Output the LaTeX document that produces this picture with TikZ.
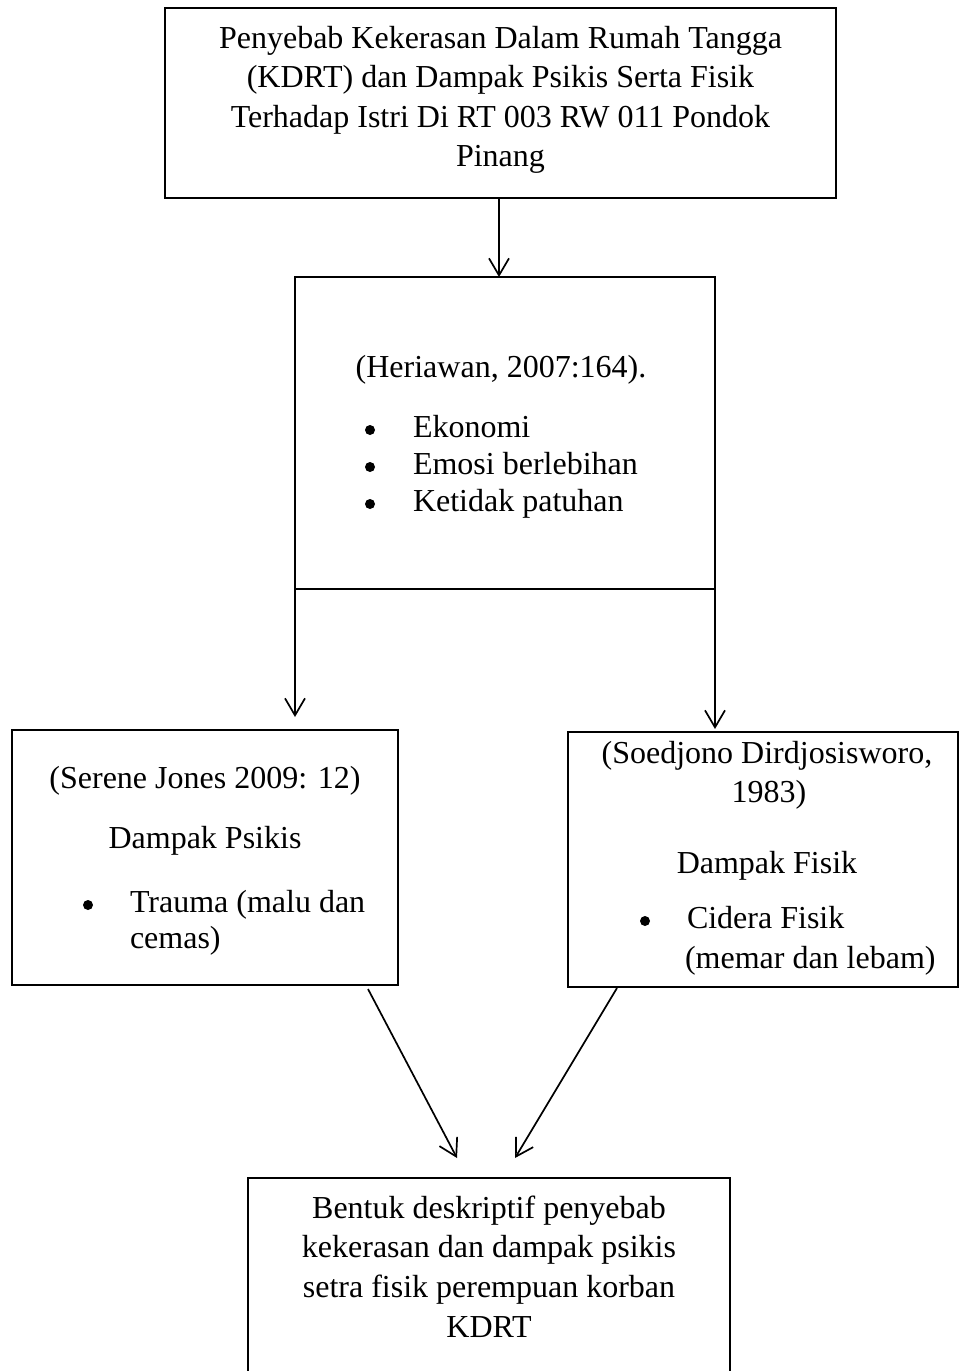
\documentclass[tikz,border=0pt]{standalone}
\usepackage{fontspec}
\setmainfont{Liberation Serif}
\usetikzlibrary{arrows.meta}
\newcommand{\fsz}{\fontsize{16}{19}\selectfont}
\tikzset{
  boxn/.style={draw, line width=1pt, inner sep=0pt, outer sep=0pt},
  txt/.style={inner sep=0pt, outer sep=0pt, font=\fsz},
  bul/.style={circle, fill=black, inner sep=0pt, minimum size=5pt},
  arr/.style={line width=0.85pt, -{Straight Barb[length=8.5pt,width=10pt,line width=0.85pt]}}
}
\begin{document}
\begin{tikzpicture}[x=0.5pt,y=-0.5pt]
\useasboundingbox (0,0) rectangle (960,1371);
\begin{scope}
\clip (0,0) rectangle (960,1371);
% boxes
\node[boxn, minimum width=335.5pt, minimum height=95pt] (top) at (500.5,103) {};
\node[boxn, minimum width=210pt, minimum height=156pt] (cause) at (505,433) {};
\node[boxn, minimum width=193pt, minimum height=127.5pt] (psi) at (205,857.5) {};
\node[boxn, minimum width=195pt, minimum height=127.5pt] (fis) at (763,859.5) {};
\node[boxn, minimum width=241pt, minimum height=110pt] (bot) at (489,1288) {};

% top text
\node[txt, anchor=base] (t1) at (500.5,48) {Penyebab Kekerasan Dalam Rumah Tangga};
\node[txt, anchor=base] (t2) at (500.5,87) {(KDRT) dan Dampak Psikis Serta Fisik};
\node[txt, anchor=base] (t3) at (500.5,127) {Terhadap Istri Di RT 003 RW 011 Pondok};
\node[txt, anchor=base] (t4) at (500.5,166) {Pinang};

% cause text
\node[txt, anchor=base] (c0) at (501,377) {(Heriawan, 2007:164).};
\node[bul] (cb1) at (370,430) {};
\node[bul] (cb2) at (370,467) {};
\node[bul] (cb3) at (370,504) {};
\node[txt, anchor=base west] (c1) at (413,437) {Ekonomi};
\node[txt, anchor=base west] (c2) at (413,474) {Emosi berlebihan};
\node[txt, anchor=base west] (c3) at (413,511) {Ketidak patuhan};

% psikis text
\node[txt, anchor=base] (p0) at (205,788) {(Serene Jones 2009: 12)};
\node[txt, anchor=base] (p1) at (205,848) {Dampak Psikis};
\node[bul] (pb) at (88,905) {};
\node[txt, anchor=base west] (p2) at (130,912) {Trauma (malu dan};
\node[txt, anchor=base west] (p3) at (130,948) {cemas)};

% fisik text
\node[txt, anchor=base] (f0) at (767,763) {(Soedjono Dirdjosisworo,};
\node[txt, anchor=base] (f1) at (769,802) {1983)};
\node[txt, anchor=base] (f2) at (767,873) {Dampak Fisik};
\node[bul] (fb) at (645,921) {};
\node[txt, anchor=base west] (f3) at (687,928) {Cidera Fisik};
\node[txt, anchor=base west] (f4) at (685,968) {(memar dan lebam)};

% bottom text
\node[txt, anchor=base] (b1) at (489,1218) {Bentuk deskriptif penyebab};
\node[txt, anchor=base] (b2) at (489,1257) {kekerasan dan dampak psikis};
\node[txt, anchor=base] (b3) at (489,1297) {setra fisik perempuan korban};
\node[txt, anchor=base] (b4) at (489,1337) {KDRT};

% connectors
\draw[arr] ([xshift=-0.75pt]top.south) -- ([xshift=-0.75pt]top.south |- cause.north);
\draw[arr, shorten >=6.5pt] (cause.south west) -- (cause.south west |- psi.north);
\draw[arr, shorten >=1.5pt] (cause.south east) -- (cause.south east |- fis.north);
\draw[arr] ([shift={(163,4)}]psi.south) -- ([shift={(-32,-20)}]bot.north);
\draw[arr] ([shift={(-146,1)}]fis.south) -- ([shift={(26,-20)}]bot.north);
\end{scope}
\end{tikzpicture}
\end{document}
